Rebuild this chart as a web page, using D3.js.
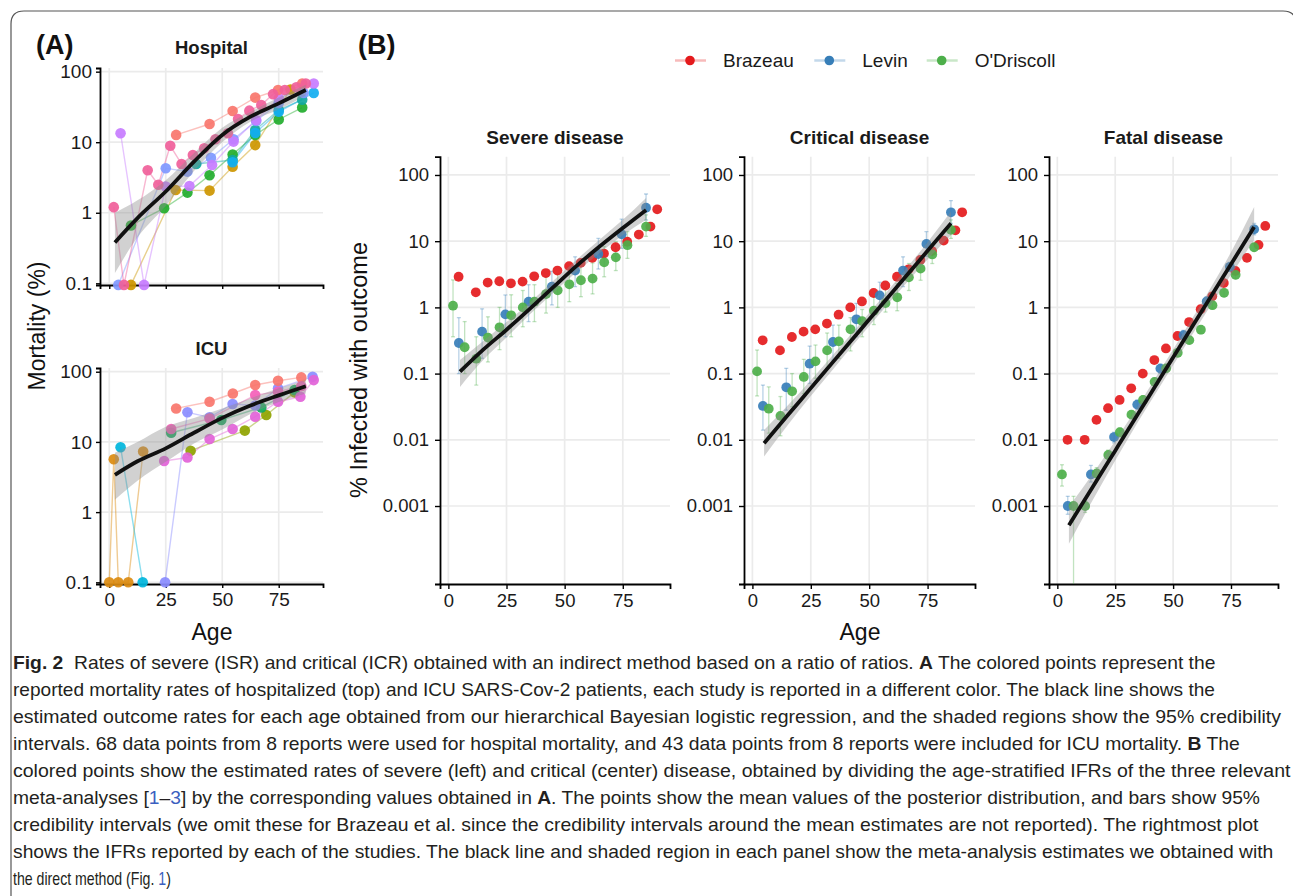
<!DOCTYPE html>
<html><head><meta charset="utf-8">
<script src="https://cdn.jsdelivr.net/npm/d3@7"></script>
<style>
body{margin:0;background:#fff;}
svg{display:block;}
text{font-family:"Liberation Sans",Arial,Helvetica,sans-serif;}
</style>
</head><body>
<svg id="c" width="1293" height="896"></svg>
<script>
// ---------------- DATA ----------------
// Panel A : Hospital mortality (%) by study
const hospSalmonAge = [29.6, 44.4, 54.6, 64.6, 74.7, 85.4];
const hospSalmonVal = [12.7, 18.1, 27.7, 42.9, 55, 68];
const hospPinkAge = [2, 6.5, 17, 21.7, 27, 32, 37, 42, 47, 52.5, 57, 62, 67.3, 72.5, 77.7, 82.8, 87];
const hospPinkVal = [1.2, 0.095, 4.0, 2.5, 8.9, 4.9, 6.6, 8.2, 11, 13.4, 21.3, 28, 33.7, 48, 55, 60, 68];
const hospVioletAge = [5, 15.4, 25, 35.5, 45.5, 55, 65, 75, 90.5];
const hospVioletVal = [13.4, 0.095, 2.35, 2.4, 4.75, 10.2, 20.6, 42, 68];
const hospPeriAge = [4, 25, 34.6, 45, 55, 65, 75, 86];
const hospPeriVal = [0.095, 4.27, 3.83, 6.0, 11, 20, 36, 50];
const hospTealAge = [38.5, 54.6, 64.6, 75, 85.4];
const hospTealVal = [4.9, 5.6, 14.9, 28.6, 40];
const hospBlueAge = [54.6, 64.6, 75, 90.5];
const hospBlueVal = [5.2, 13.5, 27, 50];
const hospGreenAge = [9.6, 24.3, 34.6, 44.4, 54.6, 64.6, 75, 85.4];
const hospGreenVal = [0.66, 1.16, 1.93, 3.4, 6.7, 12.7, 21, 31];
const hospGoldAge = [9.6, 29.4, 44.4, 54.6, 64.6, 80.2];
const hospGoldVal = [0.095, 2.1, 2.06, 4.5, 9.1, 56];

// Panel A : ICU mortality (%) by study
const icuSalmonAge = [29.6, 44.4, 54.7, 64.6, 74.7, 85];
const icuSalmonVal = [30, 37.4, 49, 64.6, 74.5, 83];
const icuOrangeAge = [0, 2, 4, 8.4, 15];
const icuOrangeVal = [0.1, 5.65, 0.1, 0.1, 7.3];
const icuCyanAge = [5, 14.8];
const icuCyanVal = [8.4, 0.1];
const icuPeriAge = [24.7, 34.6, 44.4, 54.6, 64.6, 74.7, 90];
const icuPeriVal = [0.1, 26.4, 22.4, 34.7, 33, 58, 85];
const icuMagentaAge = [24.3, 34.6, 44.4, 54.6, 64.6, 74.7, 84.6, 90.5];
const icuMagentaVal = [5.35, 6.0, 11, 15.3, 22.9, 37.4, 44, 76];
const icuGreenAge = [27.4, 49.6, 67.3, 82];
const icuGreenVal = [13.5, 20.5, 31, 55];
const icuPinkAge = [27.4, 44.4, 64.6, 74.7, 85];
const icuPinkVal = [15.3, 21.5, 46.5, 52, 62];
const icuOliveAge = [36, 60, 69.5, 82];
const icuOliveVal = [7.5, 14.5, 24.2, 50.8];

// Panel A fitted curves
const fitAgeA = [2.5, 12.5, 25, 37.5, 50, 62.5, 75, 87];
const hospFit = [0.38, 0.84, 2.0, 5.3, 12.7, 23, 35.5, 55];
const hospLo  = [0.14, 0.45, 1.25, 3.9, 10, 19.5, 29, 46];
const hospHi  = [1.0, 1.5, 2.9, 7.0, 16, 27, 43, 65];
const icuFit  = [3.4, 5.3, 8.1, 13.5, 22, 33, 46, 62];
const icuLo   = [1.5, 2.8, 5.2, 9.5, 15, 25, 37, 49];
const icuHi   = [7.0, 10, 16.5, 22, 30, 42, 58, 77];

// Panel B : ages
const brazAge = [4.4, 11.8, 16.9, 21.9, 26.9, 31.9, 36.9, 41.9, 46.9, 51.9, 56.9, 61.9, 66.9, 71.9, 76.9, 81.9, 86.9, 89.8];
const levinAge = [4.5, 14.5, 24.5, 34.5, 44.5, 54.5, 64.5, 74.5, 85];
const odAge = [2, 7, 12, 17, 22, 27, 32, 37, 42, 47, 52, 57, 62, 67, 72, 77, 85];
const fitAgeB = [5, 15, 25, 35, 45, 55, 65, 75, 85];

// Severe disease
const brazSevere = [2.9, 1.69, 2.37, 2.48, 2.31, 2.45, 2.95, 3.3, 3.6, 4.2, 4.7, 5.6, 6.5, 8.1, 9.8, 12.6, 16.6, 30.3];
const levinSevere   = [0.29, 0.43, 0.785, 1.22, 2.06, 3.6, 6.4, 12.7, 32];
const levinSevereLo = [0.10, 0.17, 0.36, 0.61, 1.09, 2.06, 3.8, 7.8, 20.9];
const levinSevereHi = [0.70, 0.95, 1.54, 2.2, 3.5, 5.8, 11, 21.6, 51.6];
const odSevere   = [1.06, 0.25, 0.168, 0.35, 0.50, 0.76, 1.0, 1.22, 1.59, 1.81, 2.23, 2.57, 2.72, 4.8, 5.7, 8.7, 16.6];
const odSevereLo = [0.36, 0.10, 0.067, 0.15, 0.23, 0.36, 0.51, 0.61, 0.82, 1.0, 1.22, 1.45, 1.6, 2.9, 3.6, 5.5, 11.8];
const odSevereHi = [2.6, 0.61, 0.36, 0.72, 1.0, 1.55, 1.8, 2.2, 2.9, 3.2, 3.8, 4.4, 4.7, 8.3, 9.8, 13.9, 25];
const severeFit = [0.107, 0.23, 0.46, 0.95, 2.0, 4.2, 8.3, 15.8, 29.5];
const severeLo  = [0.063, 0.16, 0.35, 0.78, 1.65, 3.4, 6.6, 12.3, 21];
const severeHi  = [0.16, 0.31, 0.6, 1.18, 2.5, 5.2, 10.5, 21, 45];

// Critical disease
const brazCritical = [0.318, 0.224, 0.357, 0.43, 0.466, 0.57, 0.776, 1.0, 1.23, 1.65, 2.14, 2.9, 3.76, 5.2, 7.1, 10.2, 14.6, 27.3];
const levinCritical   = [0.0325, 0.062, 0.141, 0.30, 0.66, 1.52, 3.6, 9.1, 27.3];
const levinCriticalLo = [0.014, 0.028, 0.071, 0.16, 0.36, 0.92, 2.06, 5.9, 18.6];
const levinCriticalHi = [0.067, 0.12, 0.26, 0.54, 1.15, 2.4, 5.8, 13.9, 41];
const odCritical   = [0.108, 0.0295, 0.023, 0.054, 0.089, 0.153, 0.224, 0.307, 0.467, 0.62, 0.89, 1.16, 1.42, 2.84, 3.85, 6.3, 14.8];
const odCriticalLo = [0.046, 0.0126, 0.0115, 0.0316, 0.05, 0.085, 0.12, 0.17, 0.22, 0.36, 0.55, 0.85, 0.89, 1.8, 2.57, 4.6, 11];
const odCriticalHi = [0.227, 0.063, 0.045, 0.1, 0.164, 0.27, 0.41, 0.54, 0.70, 0.93, 1.45, 1.95, 2.3, 4.6, 5.8, 9.1, 21];
const criticalFit = [0.0089, 0.0232, 0.0603, 0.157, 0.407, 1.06, 2.75, 7.16, 18.6];
const criticalLo  = [0.0056, 0.0164, 0.0457, 0.122, 0.324, 0.84, 2.14, 5.3, 12.3];
const criticalHi  = [0.0141, 0.0328, 0.0795, 0.202, 0.512, 1.34, 3.54, 9.65, 28];

// Fatal disease
const brazFatal = [0.01, 0.01, 0.02, 0.03, 0.04, 0.06, 0.1, 0.16, 0.24, 0.37, 0.6, 0.94, 1.47, 2.33, 3.55, 5.6, 8.8, 17];
const levinFatal   = [0.001, 0.003, 0.011, 0.034, 0.119, 0.38, 1.23, 4.1, 15.1];
const levinFatalLo = [0.00075, 0.0023, 0.009, 0.029, 0.10, 0.33, 1.05, 3.5, 12.5];
const levinFatalHi = [0.0014, 0.0041, 0.013, 0.040, 0.14, 0.45, 1.45, 4.8, 18.5];
const odFatal   = [0.003, 0.001, 0.001, 0.0031, 0.0059, 0.013, 0.024, 0.04, 0.075, 0.12, 0.206, 0.32, 0.46, 1.08, 1.66, 3.1, 8.1];
const odFatalLo = [0.002, 0.00001, 0.0008, 0.0025, 0.005, 0.011, 0.021, 0.035, 0.066, 0.105, 0.18, 0.28, 0.40, 0.95, 1.45, 2.7, 7.1];
const odFatalHi = [0.0042, 0.0014, 0.0012, 0.0038, 0.007, 0.015, 0.027, 0.046, 0.085, 0.137, 0.235, 0.36, 0.52, 1.22, 1.9, 3.5, 9.2];
const fatalFit = [0.000513, 0.001875, 0.00686, 0.0251, 0.0918, 0.336, 1.23, 4.49, 16.4];
const fatalLo  = [0.000269, 0.00118, 0.00486, 0.019, 0.0696, 0.255, 0.91, 3.1, 10.4];
const fatalHi  = [0.00098, 0.00297, 0.0097, 0.0331, 0.121, 0.443, 1.66, 6.8, 32.7];

// Ticks & labels
const xTicks = [0, 25, 50, 75];
const yTicksA = [0.1, 1, 10, 100];
const yTicksB = [0.001, 0.01, 0.1, 1, 10, 100];
const legendLabels = ["Brazeau", "Levin", "O'Driscoll"];
const panelBTitles = ["Severe disease", "Critical disease", "Fatal disease"];

const captionLines = [
  [["Fig. 2", "b"], ["  Rates of severe (ISR) and critical (ICR) obtained with an indirect method based on a ratio of ratios. "], ["A", "b"], [" The colored points represent the"]],
  [["reported mortality rates of hospitalized (top) and ICU SARS-Cov-2 patients, each study is reported in a different color. The black line shows the"]],
  [["estimated outcome rates for each age obtained from our hierarchical Bayesian logistic regression, and the shaded regions show the 95% credibility"]],
  [["intervals. 68 data points from 8 reports were used for hospital mortality, and 43 data points from 8 reports were included for ICU mortality. "], ["B", "b"], [" The"]],
  [["colored points show the estimated rates of severe (left) and critical (center) disease, obtained by dividing the age-stratified IFRs of the three relevant"]],
  [["meta-analyses ["], ["1", "l"], ["\u2013"], ["3", "l"], ["] by the corresponding values obtained in "], ["A", "b"], [". The points show the mean values of the posterior distribution, and bars show 95%"]],
  [["credibility intervals (we omit these for Brazeau et al. since the credibility intervals around the mean estimates are not reported). The rightmost plot"]],
  [["shows the IFRs reported by each of the studies. The black line and shaded region in each panel show the meta-analysis estimates we obtained with"]],
  [["the direct method (Fig. "], ["1", "l"], [")"]]
];
const captionEnds = [1216, 1216, 1282, 1241, 1291, 1261, 1259, 1274, 171];

// ---------------- DRAWING ----------------
const svg = d3.select("#c");
svg.append("rect").attr("width", 1293).attr("height", 896).attr("fill", "#fff");
svg.append("path").attr("d", "M11,896 V24 Q11,11 24,11 H1283 Q1296,11 1296,24 V896")
  .attr("fill", "none").attr("stroke", "#555").attr("stroke-width", 1.2);

const defs = svg.append("defs");
let clipId = 0;
function clip(x, y) {
  const id = "clip" + (clipId++);
  const [xa, xb] = x.range(); const [yb, ya] = y.range();
  defs.append("clipPath").attr("id", id).append("rect")
    .attr("x", xa).attr("y", ya).attr("width", xb - xa).attr("height", yb - ya);
  return "url(#" + id + ")";
}

function frame(x, y, yt, opts) {
  const g = svg.append("g");
  const [xa, xb] = x.range(); const [yb, ya] = y.range();
  g.selectAll(".gy").data(yt).join("line")
    .attr("x1", xa).attr("x2", xb).attr("y1", d => y(d)).attr("y2", d => y(d))
    .attr("stroke", "#EBEBEB").attr("stroke-width", 1.7);
  g.selectAll(".gx").data(xTicks).join("line")
    .attr("x1", d => x(d)).attr("x2", d => x(d)).attr("y1", ya).attr("y2", yb)
    .attr("stroke", "#EBEBEB").attr("stroke-width", 1.7);
  const fmt = d => String(d);
  const ya_ = svg.append("g").attr("transform", `translate(${xa},0)`)
    .call(d3.axisLeft(y).tickValues(yt).tickFormat(fmt).tickSizeOuter(0).tickSize(opts.tick).tickPadding(opts.pad));
  const xa_ = svg.append("g").attr("transform", `translate(0,${yb})`)
    .call(d3.axisBottom(x).tickValues(xTicks).tickFormat(opts.xlabels ? fmt : "").tickSizeOuter(0).tickSize(opts.tick).tickPadding(5));
  [ya_, xa_].forEach(a => {
    a.attr("font-family", null).attr("font-size", opts.fs);
    a.select(".domain").attr("stroke", "#000").attr("stroke-width", 1.8);
    a.selectAll(".tick line").attr("stroke", "#000").attr("stroke-width", 1.4);
    a.selectAll(".tick text").attr("fill", "#1a1a1a");
  });
}

function ribbonAndLine(x, y, ages, fit, lo, hi, cp) {
  const area = d3.area().x((d, i) => x(ages[i])).y0((d, i) => y(lo[i])).y1((d, i) => y(hi[i])).curve(d3.curveMonotoneX);
  svg.append("path").datum(fit).attr("d", area).attr("fill", "#8c8c8c").attr("fill-opacity", 0.4).attr("clip-path", cp);
  const line = d3.line().x((d, i) => x(ages[i])).y(d => y(d)).curve(d3.curveMonotoneX);
  svg.append("path").datum(fit).attr("d", line).attr("fill", "none").attr("stroke", "#111").attr("stroke-width", 3.8).attr("stroke-linecap", "butt");
}

// ---------- Panel A ----------
const xA = d3.scaleLinear().domain([-4.1, 94.6]).range([100, 323]);
const yHosp = d3.scaleLog().domain([Math.pow(10, -1.024), Math.pow(10, 2.052)]).range([285, 68]);
const yIcu = d3.scaleLog().domain([Math.pow(10, -1.024), Math.pow(10, 2.053)]).range([584, 368]);

const hospSeries = [
  [hospGoldAge, hospGoldVal, "#CD9600"],
  [hospGreenAge, hospGreenVal, "#22AD2C"],
  [hospTealAge, hospTealVal, "#10A8A0"],
  [hospBlueAge, hospBlueVal, "#12AEF0"],
  [hospPeriAge, hospPeriVal, "#7F98FF"],
  [hospVioletAge, hospVioletVal, "#C77CFF"],
  [hospSalmonAge, hospSalmonVal, "#F8766D"],
  [hospPinkAge, hospPinkVal, "#F0609A"]
];
const icuSeries = [
  [icuOrangeAge, icuOrangeVal, "#DB8B10"],
  [icuCyanAge, icuCyanVal, "#00B5DC"],
  [icuOliveAge, icuOliveVal, "#8FA300"],
  [icuGreenAge, icuGreenVal, "#12A85A"],
  [icuPeriAge, icuPeriVal, "#8A8CFF"],
  [icuSalmonAge, icuSalmonVal, "#F8766D"],
  [icuPinkAge, icuPinkVal, "#F460B8"],
  [icuMagentaAge, icuMagentaVal, "#E263D8"]
];

function panelA(y, series, fit, lo, hi, title, titleY, xlabels) {
  frame(xA, y, yTicksA, {tick: 4, pad: 4, fs: 19, xlabels});
  const cp = clip(xA, y);
  const line = d3.line().x(d => xA(d[0])).y(d => y(d[1]));
  series.forEach(([ages, vals, col]) => {
    const pts = ages.map((a, i) => [a, vals[i]]);
    svg.append("path").datum(pts).attr("d", line).attr("fill", "none").attr("stroke", col).attr("stroke-opacity", 0.45).attr("stroke-width", 1.4);
  });
  series.forEach(([ages, vals, col]) => {
    const pts = ages.map((a, i) => [a, vals[i]]);
    svg.append("g").selectAll("circle").data(pts).join("circle")
      .attr("cx", d => xA(d[0])).attr("cy", d => y(d[1])).attr("r", 5.3)
      .attr("fill", col).attr("fill-opacity", 0.92);
  });
  ribbonAndLine(xA, y, fitAgeA, fit, lo, hi, cp);
  svg.append("text").attr("x", 211.5).attr("y", titleY).attr("text-anchor", "middle")
    .attr("font-weight", "bold").attr("font-size", 18.5).attr("fill", "#1a1a1a").text(title);
}
panelA(yHosp, hospSeries, hospFit, hospLo, hospHi, "Hospital", 54, false);
panelA(yIcu, icuSeries, icuFit, icuLo, icuHi, "ICU", 355, true);

svg.append("text").attr("x", 36).attr("y", 54).attr("font-weight", "bold").attr("font-size", 27).attr("fill", "#111").text("(A)");
svg.append("text").attr("x", 358).attr("y", 54).attr("font-weight", "bold").attr("font-size", 27).attr("fill", "#111").text("(B)");
svg.append("text").attr("transform", "translate(45,326) rotate(-90)").attr("text-anchor", "middle")
  .attr("font-size", 23).attr("fill", "#111").text("Mortality (%)");
svg.append("text").attr("x", 212).attr("y", 640).attr("text-anchor", "middle").attr("font-size", 23).attr("fill", "#111").text("Age");

// ---------- Panel B ----------
const yB = d3.scaleLog().domain([Math.pow(10, -4.178), Math.pow(10, 2.276)]).range([584, 156.7]);
const colBraz = "#E41A1C", colLevin = "#377EB8", colOD = "#4DAF4A";
const panelsB = [
  {range: [440, 670], title: panelBTitles[0], braz: brazSevere, lv: levinSevere, lvLo: levinSevereLo, lvHi: levinSevereHi, od: odSevere, odLo: odSevereLo, odHi: odSevereHi, fit: severeFit, lo: severeLo, hi: severeHi},
  {range: [744, 975], title: panelBTitles[1], braz: brazCritical, lv: levinCritical, lvLo: levinCriticalLo, lvHi: levinCriticalHi, od: odCritical, odLo: odCriticalLo, odHi: odCriticalHi, fit: criticalFit, lo: criticalLo, hi: criticalHi},
  {range: [1049, 1278], title: panelBTitles[2], braz: brazFatal, lv: levinFatal, lvLo: levinFatalLo, lvHi: levinFatalHi, od: odFatal, odLo: odFatalLo, odHi: odFatalHi, fit: fatalFit, lo: fatalLo, hi: fatalHi}
];

panelsB.forEach(p => {
  const x = d3.scaleLinear().domain([-3.6, 95.3]).range(p.range);
  frame(x, yB, yTicksB, {tick: 5, pad: 6, fs: 18.5, xlabels: true});
  const cp = clip(x, yB);
  function errbars(ages, lo, hi, col) {
    const g = svg.append("g").attr("clip-path", cp).attr("stroke", col).attr("stroke-opacity", 0.35).attr("stroke-width", 1.3);
    ages.forEach((a, i) => {
      g.append("line").attr("x1", x(a)).attr("x2", x(a)).attr("y1", yB(lo[i])).attr("y2", yB(hi[i]));
      g.append("line").attr("x1", x(a) - 2).attr("x2", x(a) + 2).attr("y1", yB(lo[i])).attr("y2", yB(lo[i]));
      g.append("line").attr("x1", x(a) - 2).attr("x2", x(a) + 2).attr("y1", yB(hi[i])).attr("y2", yB(hi[i]));
    });
  }
  errbars(levinAge, p.lvLo, p.lvHi, colLevin);
  errbars(odAge, p.odLo, p.odHi, colOD);
  function pts(ages, vals, col) {
    svg.append("g").selectAll("circle").data(vals).join("circle")
      .attr("cx", (d, i) => x(ages[i])).attr("cy", d => yB(d)).attr("r", 4.9)
      .attr("fill", col).attr("fill-opacity", 0.92);
  }
  pts(brazAge, p.braz, colBraz);
  pts(levinAge, p.lv, colLevin);
  pts(odAge, p.od, colOD);
  ribbonAndLine(x, yB, fitAgeB, p.fit, p.lo, p.hi, cp);
  svg.append("text").attr("x", (p.range[0] + p.range[1]) / 2).attr("y", 144).attr("text-anchor", "middle")
    .attr("font-weight", "bold").attr("font-size", 19).attr("fill", "#1a1a1a").text(p.title);
});

svg.append("text").attr("transform", "translate(367,370) rotate(-90)").attr("text-anchor", "middle")
  .attr("font-size", 23.5).attr("fill", "#111").text("% Infected with outcome");
svg.append("text").attr("x", 860).attr("y", 640).attr("text-anchor", "middle").attr("font-size", 23).attr("fill", "#111").text("Age");

// Legend
const legCols = [colBraz, colLevin, colOD];
const legDotX = [690, 829.3, 941.7];
legendLabels.forEach((lab, i) => {
  svg.append("line").attr("x1", legDotX[i] - 15).attr("x2", legDotX[i] + 16).attr("y1", 60.5).attr("y2", 60.5)
    .attr("stroke", legCols[i]).attr("stroke-opacity", 0.3).attr("stroke-width", 2.5);
  svg.append("circle").attr("cx", legDotX[i]).attr("cy", 60.5).attr("r", 4.8).attr("fill", legCols[i]);
  svg.append("text").attr("x", legDotX[i] + 33).attr("y", 67).attr("font-size", 19).attr("fill", "#1a1a1a").text(lab);
});

// Caption (each line scaled horizontally to the reference width)
captionLines.forEach((segs, i) => {
  const g = svg.append("g").attr("transform", `translate(13,${669 + i * 27})`);
  const t = g.append("text").attr("x", 0).attr("y", 0)
    .attr("font-family", "'Liberation Sans Narrow','Arial Narrow','Liberation Sans',sans-serif")
    .attr("font-size", 18).attr("fill", "#231f20")
    .style("white-space", "pre");
  segs.forEach(([s, f]) => {
    const ts = t.append("tspan").text(s);
    if (f === "b") ts.attr("font-weight", "bold");
    if (f === "l") ts.attr("fill", "#3b5fc0");
  });
  const w = t.node().getComputedTextLength();
  t.attr("transform", `scale(${(captionEnds[i] - 13) / w},1)`);
});
</script>
</body></html>
